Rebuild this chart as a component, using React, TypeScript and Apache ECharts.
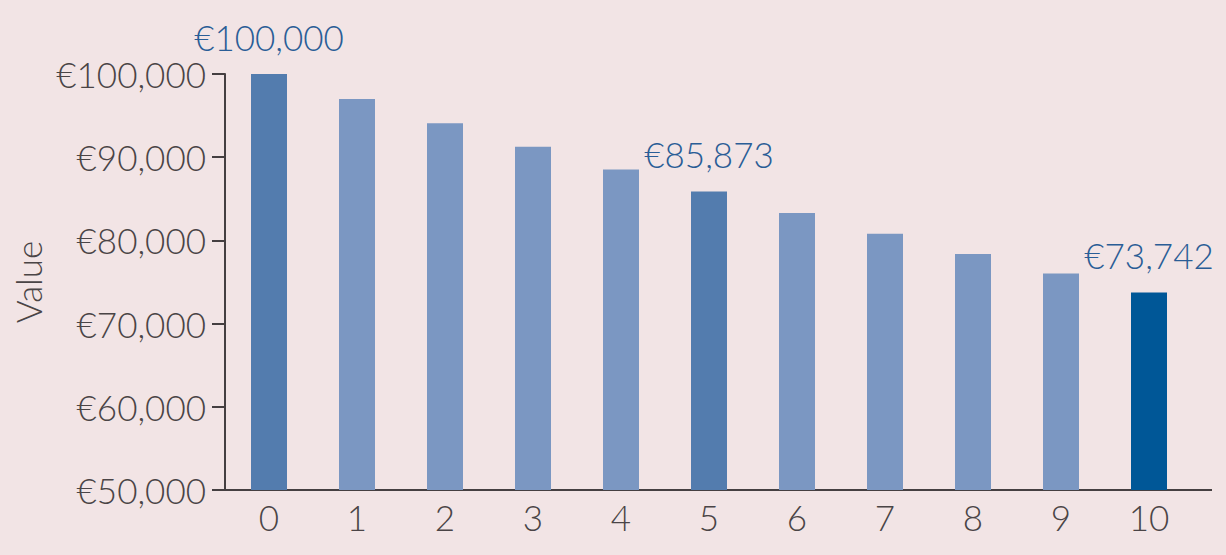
import React, { useEffect, useRef } from "react";
import * as echarts from "echarts";

const categories = ["0", "1", "2", "3", "4", "5", "6", "7", "8", "9", "10"];
const values = [100000, 97000, 94090, 91267, 88529, 85873, 83297, 80798, 78374, 76023, 73742];
const labelled = [0, 5, 10];
const yTicks = [50000, 60000, 70000, 80000, 90000, 100000];

const LIGHT = "#7b97c2";
const MID = "#537cae";
const DARK = "#005797";
const AXIS = "#453f41";
const FONT = "Lato, 'Open Sans', sans-serif";

function fmt(v: number) {
  return "€" + v.toLocaleString("en-US");
}

export default function App() {
  const ref = useRef<HTMLDivElement>(null);
  useEffect(() => {
    if (!ref.current) return;
    const chart = echarts.init(ref.current, undefined, { renderer: "svg" });
    chart.setOption({
      animation: false,
      backgroundColor: "#f2e4e5",
      grid: { left: 225, right: 33, top: 74, bottom: 65, containLabel: false },
      graphic: [
        {
          type: "line",
          shape: { x1: 1192, y1: 490, x2: 1212, y2: 490 },
          style: { stroke: AXIS, lineWidth: 2 },
        },
      ],
      xAxis: {
        type: "category",
        data: categories,
        axisLine: { lineStyle: { color: AXIS, width: 2 } },
        axisTick: { show: false },
        axisLabel: { color: "#4a4446", fontSize: 35, fontFamily: FONT, fontWeight: 300, margin: 9 },
      },
      yAxis: {
        type: "value",
        min: yTicks[0],
        max: yTicks[yTicks.length - 1],
        interval: 10000,
        name: "Value",
        nameLocation: "middle",
        nameGap: 180,
        nameTextStyle: { color: "#4a4446", fontSize: 35, fontFamily: FONT, fontWeight: 300 },
        splitLine: { show: false },
        axisLine: { show: true, lineStyle: { color: AXIS, width: 2 } },
        axisTick: { show: true, length: 13, lineStyle: { color: AXIS, width: 2 } },
        axisLabel: {
          color: "#4a4446",
          fontSize: 35,
          fontFamily: FONT,
          fontWeight: 300,
          margin: 19,
          formatter: (v: number) => fmt(v),
        },
      },
      series: [
        {
          type: "bar",
          barWidth: 36,
          data: values.map((v, i) => ({
            value: v,
            itemStyle: { color: i === 10 ? DARK : labelled.includes(i) ? MID : LIGHT },
            label: labelled.includes(i)
              ? {
                  show: true,
                  position: "top",
                  distance: 20,
                  formatter: () => fmt(v),
                  color: "#2a5d96",
                  fontSize: 35,
                  fontFamily: FONT,
                  fontWeight: 300,
                }
              : { show: false },
          })),
        },
      ],
    });
    return () => chart.dispose();
  }, []);
  return <div ref={ref} style={{ width: 1226, height: 555, position: "absolute", left: 0, top: 0 }} />;
}
